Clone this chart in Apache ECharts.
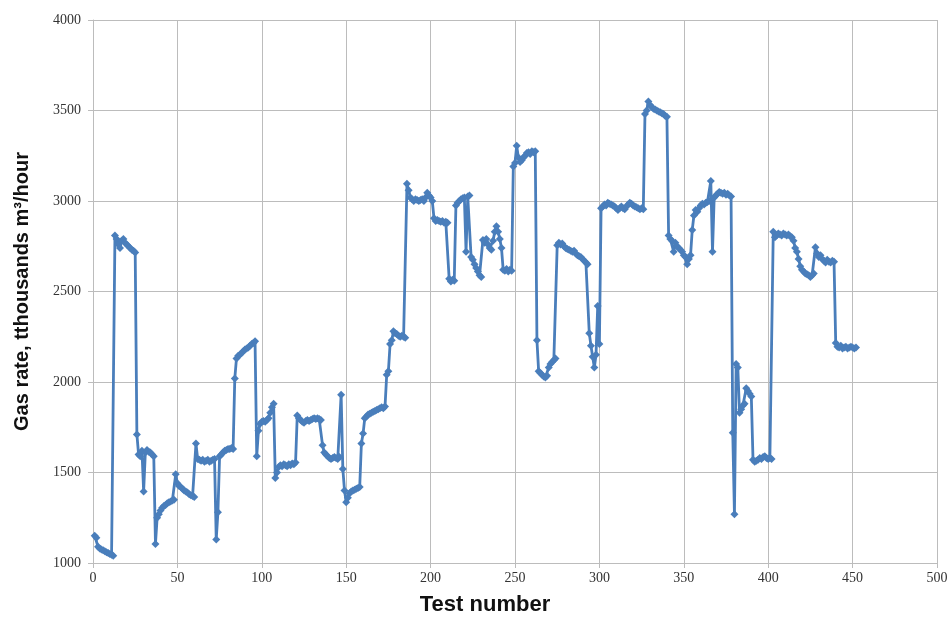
<!DOCTYPE html>
<html>
<head>
<meta charset="utf-8">
<script src="https://cdn.jsdelivr.net/npm/echarts@6/dist/echarts.min.js"></script>
<style>
html,body{margin:0;padding:0;background:#fff;}
#chart{width:952px;height:625px;}
</style>
</head>
<body>
<div id="chart"></div>
<script>
// Gas rate (thousands m3/hour) per test number, test 1 .. 452
var rates001_060 = [
  1150, 1140, 1090, 1080, 1075, 1070, 1065, 1060, 1055, 1050, 1045, 1040,
  2810, 2790, 2760, 2740, 2780, 2790, 2770, 2760, 2750, 2740, 2730, 2725, 2715,
  1710, 1600, 1590, 1620, 1395, 1610, 1625, 1615, 1610, 1600, 1590,
  1105, 1250, 1270, 1290, 1305, 1315, 1320, 1330, 1335, 1340, 1345, 1350,
  1490, 1440, 1425, 1420, 1410, 1400, 1395, 1390, 1380, 1375, 1370, 1365
];
var rates061_120 = [
  1660, 1575, 1570, 1565, 1570, 1560, 1565, 1570, 1560, 1565, 1570, 1575,
  1130, 1280, 1590, 1600, 1610, 1620, 1625, 1630, 1630, 1635, 1630,
  2020, 2130, 2145, 2150, 2160, 2170, 2180, 2185, 2190, 2200, 2210, 2215, 2225,
  1590, 1730, 1770, 1780, 1785, 1780, 1790, 1800, 1830, 1860, 1880,
  1470, 1500, 1530, 1540, 1535, 1545, 1540, 1535, 1545, 1540, 1550, 1545, 1555
];
var rates121_185 = [
  1815, 1800, 1790, 1780, 1775, 1785, 1790, 1785, 1790, 1795, 1800, 1795, 1800, 1795, 1790,
  1650, 1610, 1600, 1590, 1580, 1575, 1580, 1585, 1580, 1575, 1585,
  1930,
  1520, 1400, 1335, 1360, 1385, 1395, 1400, 1405, 1410, 1415, 1420,
  1660, 1715, 1800, 1810, 1820, 1825, 1830, 1835, 1840, 1845, 1850, 1855, 1860, 1855, 1865,
  2040, 2060, 2210, 2230, 2280, 2270, 2265, 2255, 2250, 2255, 2250, 2245
];
var rates186_248 = [
  3095, 3060, 3020, 3010, 3000, 3010, 3005, 3000, 3005, 3010, 3000, 3020, 3045, 3030, 3020, 3000,
  2905, 2890, 2895, 2890, 2885, 2890, 2880, 2885, 2880,
  2570, 2555, 2565, 2560,
  2975, 2990, 3000, 3010, 3015, 3020, 2720, 3025, 3030, 2690, 2675, 2650, 2630, 2610, 2590, 2580,
  2785, 2770, 2790, 2760, 2740, 2730, 2780, 2830, 2860, 2830, 2790, 2740,
  2620, 2615, 2625, 2610, 2620, 2615
];
var rates249_326 = [
  3190, 3210, 3305, 3240, 3215, 3225, 3240, 3250, 3265, 3270, 3260, 3275, 3270, 3275,
  2230, 2060, 2050, 2040, 2030, 2025, 2035, 2080, 2100, 2110, 2120, 2130,
  2755, 2770, 2760, 2765, 2750, 2740, 2735, 2730, 2725, 2720, 2725, 2710, 2700, 2695, 2690, 2680, 2670, 2660, 2650,
  2270, 2200, 2140, 2080, 2150, 2420, 2210,
  2960, 2970, 2980, 2975, 2990, 2985, 2980, 2975, 2970, 2960, 2950, 2960, 2970,
  2960, 2955, 2970, 2980, 2990, 2985, 2975, 2970, 2965, 2960, 2955, 2960, 2955
];
var rates327_402 = [
  3480, 3500, 3550, 3530, 3520, 3510, 3505, 3500, 3495, 3490, 3485, 3480, 3470, 3465,
  2810, 2790, 2780, 2720, 2770, 2750, 2740, 2730, 2720, 2700, 2690, 2650, 2680, 2700,
  2840, 2920, 2950, 2940, 2960, 2975, 2985, 2980, 2990, 2995, 3000, 3110, 2720, 3020, 3030,
  3040, 3050, 3045, 3040, 3045, 3035, 3040, 3030, 3025,
  1720, 1270, 2100, 2080, 1830, 1850, 1870, 1880, 1965, 1950, 1935, 1920,
  1570, 1560, 1565, 1570, 1580, 1575, 1585, 1590, 1580, 1575, 1580, 1575
];
var rates403_452 = [
  2830, 2800, 2810, 2820, 2815, 2810, 2820, 2815, 2810, 2815, 2805, 2800, 2780, 2740, 2720,
  2680, 2640, 2620, 2610, 2600, 2595, 2590, 2580, 2590, 2600,
  2745, 2710, 2690, 2700, 2680, 2670, 2660, 2675, 2665, 2660, 2670, 2665,
  2215, 2195, 2190, 2200, 2185, 2190, 2195, 2185, 2190, 2195, 2190, 2185, 2190
];
var firstTestNumber = 1;
var xAxisTitle = 'Test number';
var yAxisTitle = 'Gas rate, tthousands m\u00B3/hour';

var rates = [].concat(rates001_060, rates061_120, rates121_185, rates186_248,
                      rates249_326, rates327_402, rates403_452);
var points = rates.map(function (v, i) { return [firstTestNumber + i, v]; });

var chart = echarts.init(document.getElementById('chart'), null, {renderer: 'canvas'});
var gridColor = '#bcbcbc';
var labelFont = {fontFamily: 'Liberation Serif', fontSize: 14, color: '#333'};
function plain(v) { return String(v); }
chart.setOption({
  animation: false,
  backgroundColor: '#fff',
  grid: {left: 93, right: 15, top: 20, bottom: 62, containLabel: false},
  xAxis: {
    type: 'value', min: 0, max: 500, interval: 50,
    name: xAxisTitle, nameLocation: 'middle', nameGap: 31,
    nameTextStyle: {fontFamily: 'Liberation Sans', fontWeight: 'bold', fontSize: 22, color: '#111',
                    padding: [0, 60, 0, 0]},
    axisLine: {show: true, lineStyle: {color: gridColor, width: 1}},
    axisTick: {show: true, length: 5, lineStyle: {color: gridColor}},
    axisLabel: Object.assign({margin: 8, formatter: plain}, labelFont),
    splitLine: {show: true, lineStyle: {color: gridColor, width: 1}}
  },
  yAxis: {
    type: 'value', min: 1000, max: 4000, interval: 500,
    name: yAxisTitle, nameLocation: 'middle', nameGap: 61,
    nameTextStyle: {fontFamily: 'Liberation Sans', fontWeight: 'bold', fontSize: 20, color: '#111'},
    axisLine: {show: true, lineStyle: {color: gridColor, width: 1}},
    axisTick: {show: true, length: 5, lineStyle: {color: gridColor}},
    axisLabel: Object.assign({margin: 12, formatter: plain}, labelFont),
    splitLine: {show: true, lineStyle: {color: gridColor, width: 1}}
  },
  series: [{
    type: 'line',
    data: points,
    symbol: 'diamond',
    symbolSize: 8,
    showAllSymbol: true,
    lineStyle: {color: '#4a7ebb', width: 2.8},
    itemStyle: {color: '#4a7ebb', borderWidth: 0}
  }]
});
</script>
</body>
</html>
